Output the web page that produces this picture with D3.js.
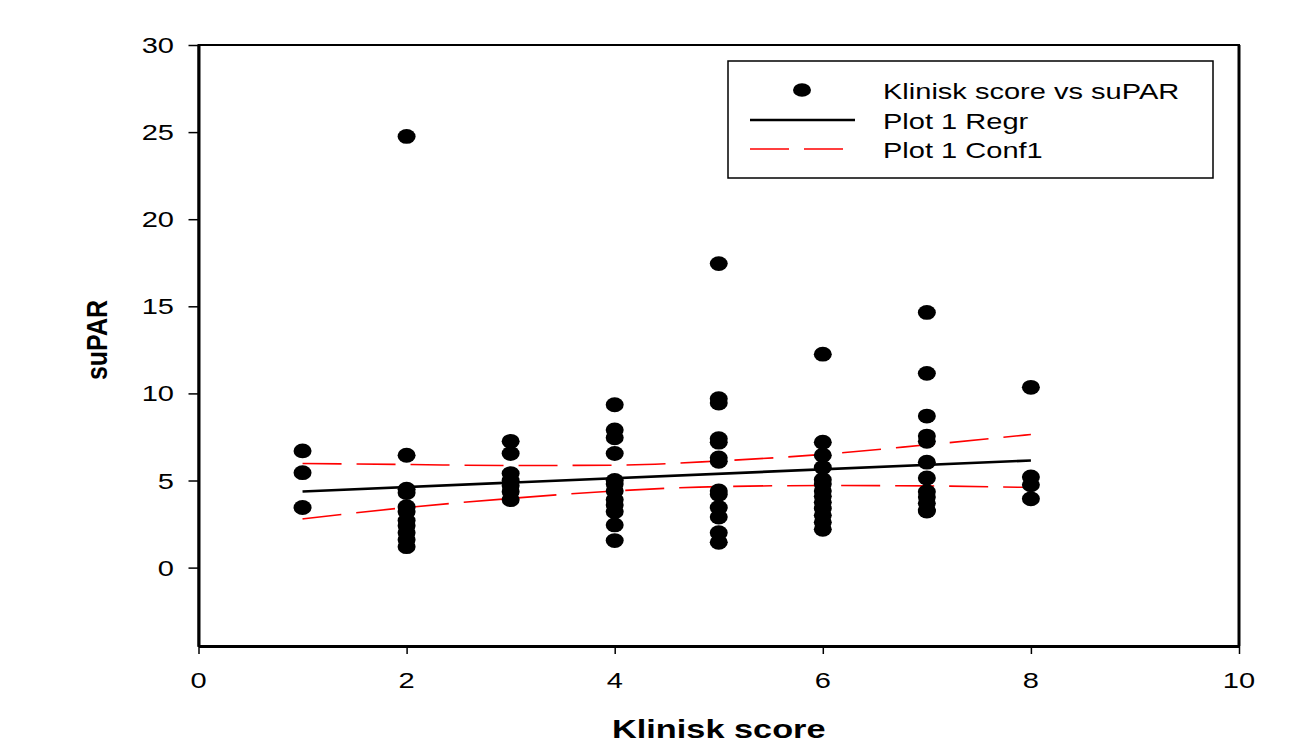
<!DOCTYPE html>
<html>
<head>
<meta charset="utf-8">
<script src="https://cdn.jsdelivr.net/npm/d3@7"></script>
<style>
  body { margin: 0; background: #fff; }
  svg { display: block; font-family: "Liberation Sans", Arial, sans-serif; }
</style>
</head>
<body>
<svg id="chart"></svg>
<script>
// values
var scores = [1, 1, 1,
  2, 2, 2, 2, 2, 2, 2, 2, 2, 2, 2,
  3, 3, 3, 3, 3, 3, 3,
  4, 4, 4, 4, 4, 4, 4, 4, 4, 4, 4, 4,
  5, 5, 5, 5, 5, 5, 5, 5, 5, 5, 5, 5, 5,
  6, 6, 6, 6, 6, 6, 6, 6, 6, 6, 6, 6, 6,
  7, 7, 7, 7, 7, 7, 7, 7, 7, 7, 7, 7,
  8, 8, 8, 8];
var supar = [6.7, 5.45, 3.45,
  24.75, 6.45, 4.5, 4.3, 3.5, 3.2, 2.7, 2.4, 2.0, 1.6, 1.2,
  7.25, 6.55, 5.4, 5.0, 4.7, 4.35, 3.9,
  9.35, 7.9, 7.45, 6.55, 5.0, 4.8, 4.4, 3.9, 3.6, 3.2, 2.45, 1.55,
  17.45, 9.7, 9.45, 7.4, 7.2, 6.3, 6.1, 4.4, 4.2, 3.45, 2.9, 2.0, 1.45,
  12.25, 7.2, 6.45, 5.75, 5.05, 4.8, 4.4, 4.1, 3.75, 3.4, 3.0, 2.6, 2.2,
  14.65, 11.15, 8.7, 7.55, 7.25, 6.05, 5.15, 4.35, 4.05, 3.7, 3.25, 3.3,
  10.35, 5.2, 4.75, 3.95];

var regrX = [1, 8];
var regrY = [4.37, 6.15];

var confX = [1, 2, 3, 4, 5, 6, 7, 8];
var confUpper = [5.98, 5.92, 5.86, 5.88, 6.12, 6.5, 7.05, 7.64];
var confLower = [2.8, 3.45, 3.97, 4.4, 4.65, 4.71, 4.69, 4.6];

var xTicks = [0, 2, 4, 6, 8, 10];
var yTicks = [0, 5, 10, 15, 20, 25, 30];

var legendLabels = ["Klinisk score vs suPAR", "Plot 1 Regr", "Plot 1 Conf1"];

var width = 1295;
var height = 753;
var sx = 1.32;   // the picture is stretched sideways

var svg = d3.select("#chart").attr("width", width).attr("height", height);

var x = d3.scaleLinear().domain([0, 10]).range([198.5, 1239]);
var y = d3.scaleLinear().domain([-4.5, 30]).range([646, 45]);

// stretched text helper
function addText(g, px, py, str, size, anchor, weight, rot, scl) {
    var t = g.append("text")
        .attr("transform", "translate(" + px + "," + py + ")" + (rot ? " rotate(" + rot + ")" : "") + " scale(" + (scl || (sx + ",1")) + ")")
        .attr("text-anchor", anchor || "start")
        .style("font-size", size + "px")
        .style("font-weight", weight || "normal")
        .attr("fill", "#000")
        .text(str);
    return t;
}

// frame
svg.append("rect")
    .attr("x", x(0)).attr("y", y(30))
    .attr("width", x(10) - x(0)).attr("height", y(-4.5) - y(30))
    .attr("fill", "none").attr("stroke", "#000").attr("stroke-width", 2);
svg.append("line").attr("x1", x(10)).attr("x2", x(10)).attr("y1", y(30)).attr("y2", y(-4.5))
    .attr("stroke", "#000").attr("stroke-width", 3);

// axes
var xAxis = svg.append("g").attr("transform", "translate(0," + y(-4.5) + ")")
    .call(d3.axisBottom(x).tickValues(xTicks).tickSize(8).tickSizeOuter(0).tickFormat(d3.format("d")));
var yAxis = svg.append("g").attr("transform", "translate(" + x(0) + ",0)")
    .call(d3.axisLeft(y).tickValues(yTicks).tickSize(10).tickSizeOuter(0).tickFormat(d3.format("d")));

xAxis.select(".domain").attr("stroke-width", 3);
yAxis.select(".domain").attr("stroke-width", 3);
xAxis.selectAll(".tick line").attr("stroke-width", 1.5);
yAxis.selectAll(".tick line").attr("stroke-width", 1.5);

xAxis.selectAll(".tick text").remove();
yAxis.selectAll(".tick text").remove();
xTicks.forEach(function(v) {
    addText(svg, x(v), 688, v, 22, "middle");
});
yTicks.forEach(function(v) {
    addText(svg, 174, y(v) + 8, v, 22, "end");
});

// axis titles
addText(svg, (x(0) + x(10)) / 2, 738, "Klinisk score", 26, "middle", "bold");
addText(svg, 107, 340, "suPAR", 25, "middle", "bold", -90, "1,1.15");

// confidence lines
var line = d3.line().curve(d3.curveMonotoneX)
    .x(function(d) { return x(d[0]); })
    .y(function(d) { return y(d[1]); });

[confUpper, confLower].forEach(function(arr) {
    svg.append("path")
        .datum(confX.map(function(v, i) { return [v, arr[i]]; }))
        .attr("d", line)
        .attr("fill", "none")
        .attr("stroke", "#ff0000")
        .attr("stroke-width", 1.6)
        .attr("stroke-dasharray", "39,15");
});

// regression line
svg.append("path")
    .datum(regrX.map(function(v, i) { return [v, regrY[i]]; }))
    .attr("d", d3.line().x(function(d) { return x(d[0]); }).y(function(d) { return y(d[1]); }))
    .attr("fill", "none")
    .attr("stroke", "#000")
    .attr("stroke-width", 2.6);

// points
svg.selectAll("ellipse.pt")
    .data(scores.map(function(v, i) { return [v, supar[i]]; }))
    .enter()
    .append("ellipse")
    .attr("class", "pt")
    .attr("cx", function(d) { return x(d[0]); })
    .attr("cy", function(d) { return y(d[1]); })
    .attr("rx", 9)
    .attr("ry", 7.4)
    .attr("fill", "#000");

// legend
var lg = svg.append("g");
lg.append("rect").attr("x", 728).attr("y", 61).attr("width", 485).attr("height", 117)
    .attr("fill", "#fff").attr("stroke", "#000").attr("stroke-width", 1.5);
lg.append("ellipse").attr("cx", 802).attr("cy", 90).attr("rx", 9).attr("ry", 6.8).attr("fill", "#000");
lg.append("line").attr("x1", 750).attr("x2", 855).attr("y1", 120).attr("y2", 120)
    .attr("stroke", "#000").attr("stroke-width", 2.5);
lg.append("line").attr("x1", 750).attr("x2", 855).attr("y1", 149).attr("y2", 149)
    .attr("stroke", "#ff0000").attr("stroke-width", 1.6).attr("stroke-dasharray", "39,15");
legendLabels.forEach(function(s, i) {
    addText(lg, 883, 99 + i * 29.5, s, 22, "start");
});
</script>
</body>
</html>
